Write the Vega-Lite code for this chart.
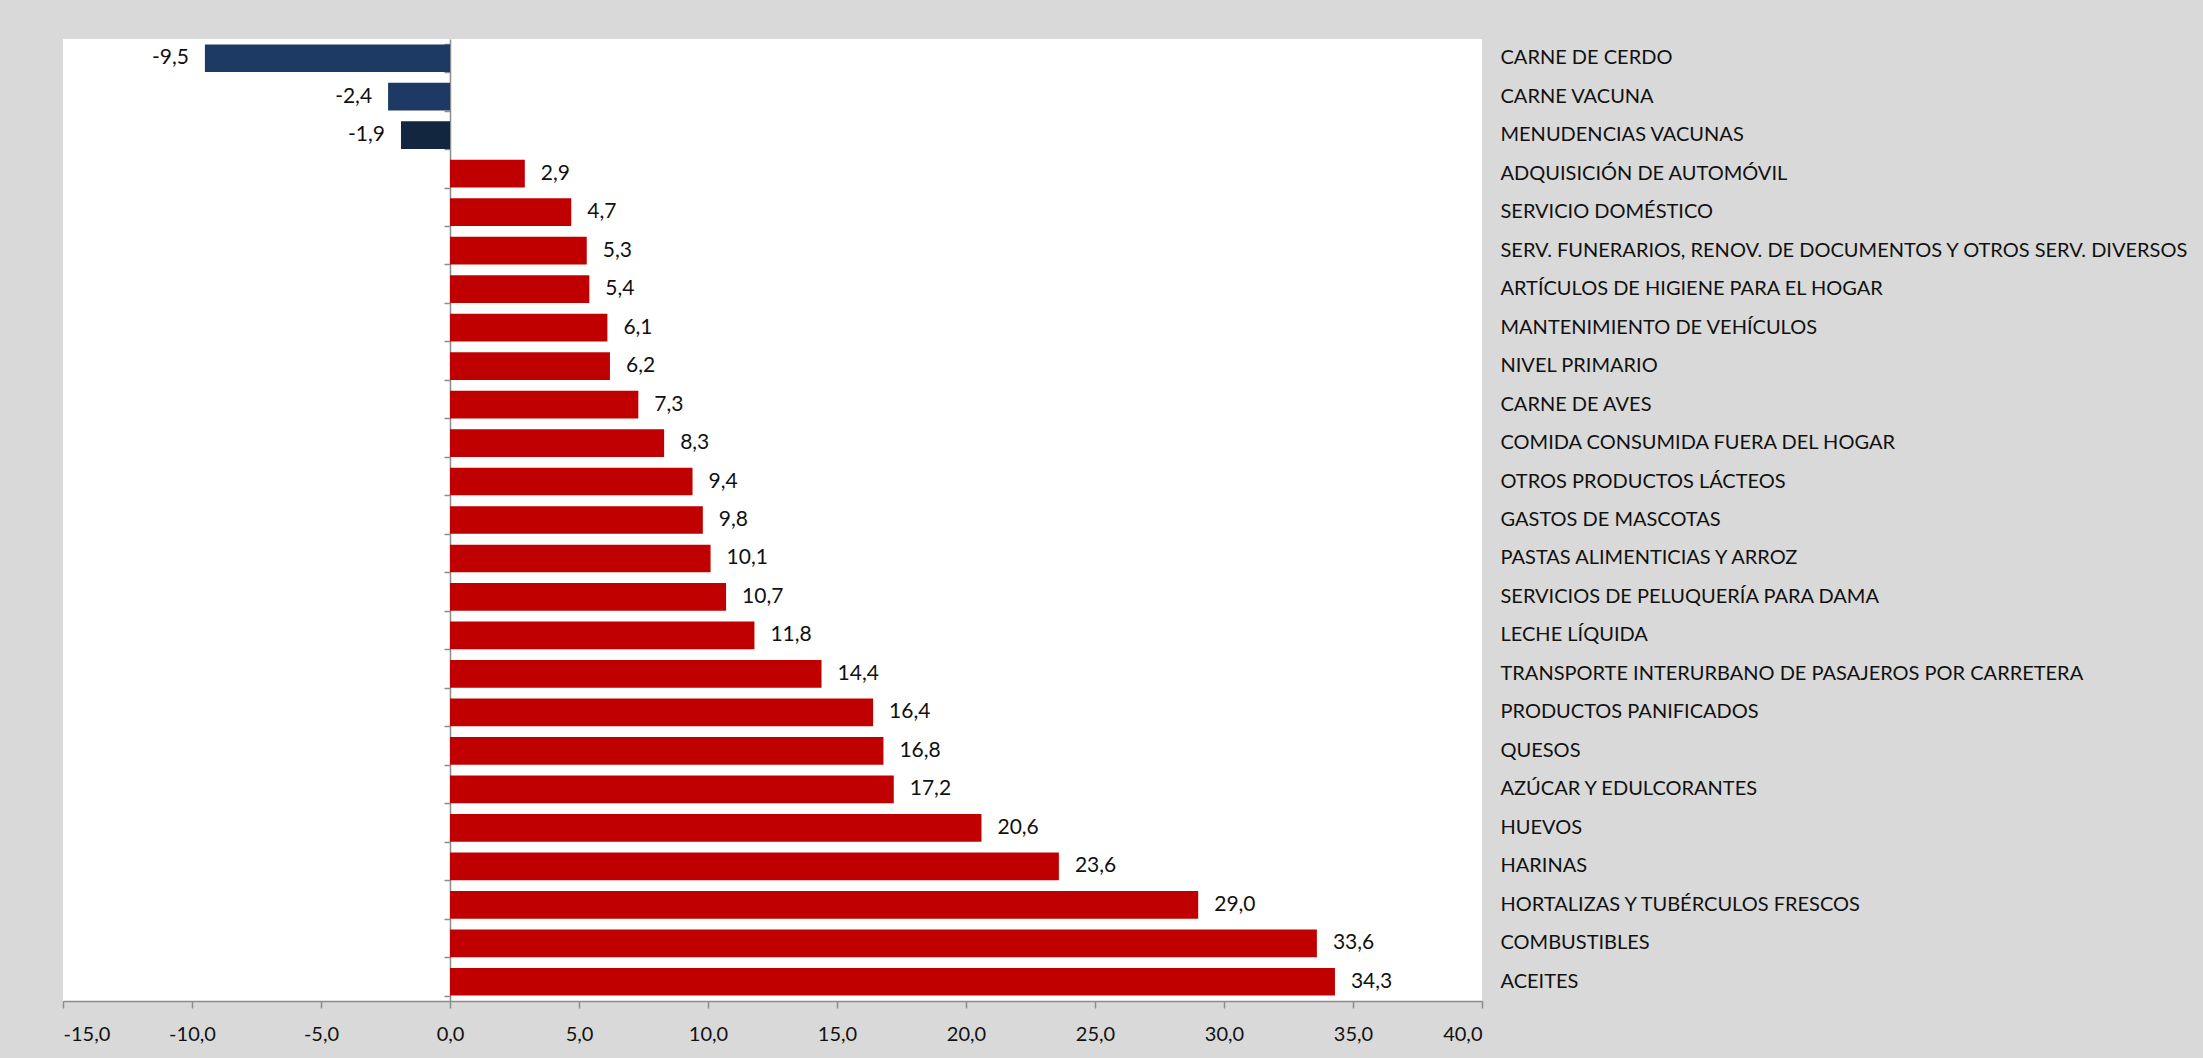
{
  "$schema": "https://vega.github.io/schema/vega-lite/v6.json",
  "width": 1419,
  "height": 962,
  "autosize": {"type": "none"},
  "padding": {"left": 63, "top": 39, "right": 721, "bottom": 57},
  "background": "#D9D9D9",
  "config": {
    "view": {"fill": "white", "stroke": null},
    "font": "Lato",
    "locale": {"number": {"decimal": ",", "thousands": ".", "grouping": [3], "currency": ["", ""], "minus": "-"}}
  },
  "data": {"values": [
    {"cat": "CARNE DE CERDO", "v": -9.5},
    {"cat": "CARNE VACUNA", "v": -2.4},
    {"cat": "MENUDENCIAS VACUNAS", "v": -1.9},
    {"cat": "ADQUISICIÓN DE AUTOMÓVIL", "v": 2.9},
    {"cat": "SERVICIO DOMÉSTICO", "v": 4.7},
    {"cat": "SERV. FUNERARIOS, RENOV. DE DOCUMENTOS Y OTROS SERV. DIVERSOS", "v": 5.3},
    {"cat": "ARTÍCULOS DE HIGIENE PARA EL HOGAR", "v": 5.4},
    {"cat": "MANTENIMIENTO DE VEHÍCULOS", "v": 6.1},
    {"cat": "NIVEL PRIMARIO", "v": 6.2},
    {"cat": "CARNE DE AVES", "v": 7.3},
    {"cat": "COMIDA CONSUMIDA FUERA DEL HOGAR", "v": 8.3},
    {"cat": "OTROS PRODUCTOS LÁCTEOS", "v": 9.4},
    {"cat": "GASTOS DE MASCOTAS", "v": 9.8},
    {"cat": "PASTAS ALIMENTICIAS Y ARROZ", "v": 10.1},
    {"cat": "SERVICIOS DE PELUQUERÍA PARA DAMA", "v": 10.7},
    {"cat": "LECHE LÍQUIDA", "v": 11.8},
    {"cat": "TRANSPORTE INTERURBANO DE PASAJEROS POR CARRETERA", "v": 14.4},
    {"cat": "PRODUCTOS PANIFICADOS", "v": 16.4},
    {"cat": "QUESOS", "v": 16.8},
    {"cat": "AZÚCAR Y EDULCORANTES", "v": 17.2},
    {"cat": "HUEVOS", "v": 20.6},
    {"cat": "HARINAS", "v": 23.6},
    {"cat": "HORTALIZAS Y TUBÉRCULOS FRESCOS", "v": 29.0},
    {"cat": "COMBUSTIBLES", "v": 33.6},
    {"cat": "ACEITES", "v": 34.3}
  ]},
  "encoding": {
    "y": {"field": "cat", "type": "nominal", "sort": null,
          "scale": {"paddingInner": 0.28, "paddingOuter": 0.14}},
    "x": {"field": "v", "type": "quantitative",
          "scale": {"domain": [-15, 40], "nice": false, "zero": false},
          "axis": {"title": null, "values": [-15, -10, -5, 0, 5, 10, 15, 20, 25, 30, 35, 40],
                   "format": ".1f", "grid": false, "domainColor": "#8C8C8C", "tickColor": "#8C8C8C",
                   "tickSize": 7, "labelPadding": 16, "labelFontSize": 20, "labelColor": "#111111",
                   "domainWidth": 1.5, "tickWidth": 1.5}}
  },
  "layer": [
    {
      "mark": {"type": "bar"},
      "encoding": {
        "color": {
          "condition": [
            {"test": "datum.cat === 'MENUDENCIAS VACUNAS'", "value": "#13263F"},
            {"test": "datum.v < 0", "value": "#1C3A63"}
          ],
          "value": "#C00000"
        },
        "y": {"field": "cat", "type": "nominal", "sort": null,
              "axis": {"orient": "left", "offset": -387, "title": null, "labels": false,
                       "tickBand": "extent", "domainColor": "#8C8C8C", "tickColor": "#8C8C8C",
                       "tickSize": 6, "domainWidth": 1.5, "tickWidth": 1.5}}
      }
    },
    {
      "transform": [{"filter": "datum.v >= 0"}],
      "mark": {"type": "text", "align": "left", "baseline": "middle", "dx": 16, "fontSize": 21, "color": "#111111"},
      "encoding": {
        "text": {"field": "v", "type": "quantitative", "format": ".1f"},
        "y": {"field": "cat", "type": "nominal", "sort": null,
              "axis": {"orient": "right", "title": null, "domain": false, "ticks": false,
                       "labelPadding": 18, "labelFontSize": 20, "labelColor": "#111111", "labelLimit": 0}}
      }
    },
    {
      "transform": [{"filter": "datum.v < 0"}],
      "mark": {"type": "text", "align": "right", "baseline": "middle", "dx": -16, "fontSize": 21, "color": "#111111"},
      "encoding": {
        "text": {"field": "v", "type": "quantitative", "format": ".1f"},
        "y": {"field": "cat", "type": "nominal", "sort": null, "axis": null}
      }
    }
  ],
  "resolve": {"axis": {"y": "independent"}}
}
